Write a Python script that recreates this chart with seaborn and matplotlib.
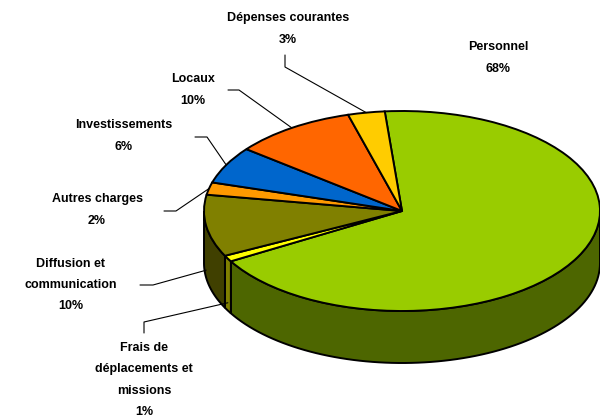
import numpy as np
import matplotlib
matplotlib.use("Agg")
import matplotlib.pyplot as plt
import matplotlib.colors as mcolors
from matplotlib.patches import Polygon
import seaborn as sns

categories = ["Personnel", "Frais de\ndéplacements et\nmissions", "Diffusion et\ncommunication",
              "Autres charges", "Investissements", "Locaux", "Dépenses courantes"]
shares = [68, 1, 10, 2, 6, 10, 3]
slice_colors = ["#99CC00", "#FFFF00", "#808000", "#FF9900", "#0066CC", "#FF6600", "#FFCC00"]

sns.set_theme(style="white")
plt.rcParams["font.family"] = ["Liberation Sans", "DejaVu Sans"]

# layout in pixels of the 600x419 picture
W, H = 600, 419
CX, CY, RX, RY = 402, 211, 198, 100
DEPTH = 0.52   # height of the pie wall, in units of the vertical radius
START = 95


def px(x, y):
    return (x - CX) / RX, (CY - y) / RY


label_pos = {
    "Personnel": (498, 58),
    "Frais de\ndéplacements et\nmissions": (144, 380),
    "Diffusion et\ncommunication": (71, 285),
    "Autres charges": (97, 210),
    "Investissements": (124, 136),
    "Locaux": (193, 90),
    "Dépenses courantes": (288, 29),
}
# first two points of each leader line, the last one sits on the slice
leader_start = {
    "Frais de\ndéplacements et\nmissions": [(144, 333), (144, 322)],
    "Diffusion et\ncommunication": [(140, 285), (153, 285)],
    "Autres charges": [(164, 211), (176, 211)],
    "Investissements": [(195, 137), (207, 137)],
    "Locaux": [(228, 90), (239, 90)],
    "Dépenses courantes": [(285, 55), (285, 67)],
}

fig = plt.figure(figsize=(W / 100, H / 100), dpi=100)
ax = fig.add_axes([0, 0, 1, 1])

frac = np.array(shares) / sum(shares)
ends = START - 360 * np.cumsum(frac)
starts = ends + 360 * frac

# front walls (the part of each slice facing the viewer)
for a0, a1, col in zip(starts, ends, slice_colors):
    side = np.array(mcolors.to_rgb(col)) * 0.5
    for k in (-1, 0, 1):
        lo = max(a1, -180 + 360 * k)
        hi = min(a0, 0 + 360 * k)
        if hi <= lo:
            continue
        t = np.radians(np.linspace(lo, hi, 80))
        top = np.column_stack([np.cos(t), np.sin(t)])
        bot = np.column_stack([np.cos(t), np.sin(t) - DEPTH])[::-1]
        ax.add_patch(Polygon(np.vstack([top, bot]), closed=True,
                             facecolor=side, edgecolor="black", linewidth=1.4))

ax.pie(shares, colors=slice_colors, startangle=START, counterclock=False,
       wedgeprops=dict(edgecolor="black", linewidth=1.4))

ax.set_aspect("auto")
ax.set_xlim(px(0, 0)[0], px(W, 0)[0])
ax.set_ylim(px(0, H)[1], px(0, 0)[1])
ax.axis("off")

for cat, share, a0, a1 in zip(categories, shares, starts, ends):
    tx, ty = px(*label_pos[cat])
    ax.text(tx, ty, f"{cat}\n{share}%", ha="center", va="center",
            multialignment="center", fontsize=9, fontweight="bold",
            linespacing=2.05, color="black")
    if cat in leader_start:
        mid = np.radians((a0 + a1) / 2)
        ex, ey = np.cos(mid), np.sin(mid)
        if ey < 0:
            ey -= DEPTH * 0.85
        pts = [px(*p) for p in leader_start[cat]] + [(ex, ey)]
        xs, ys = zip(*pts)
        ax.plot(xs, ys, color="black", linewidth=0.8)

fig.savefig("out.png", dpi=100)
